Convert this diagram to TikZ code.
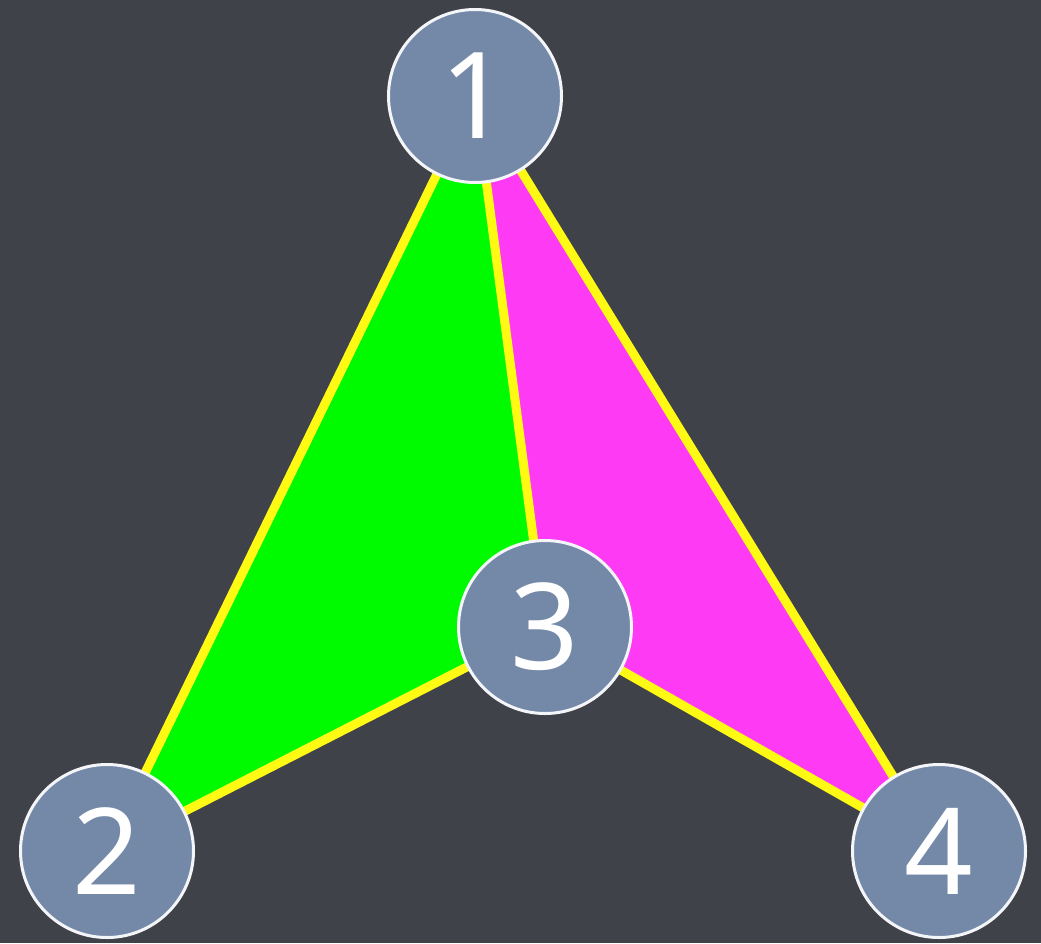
\documentclass[tikz,border=0pt]{standalone}
\usepackage{fontspec}
\setmainfont{Noto Sans}
\definecolor{board}{RGB}{64,66,73}
\definecolor{nodefill}{RGB}{116,136,168}
\definecolor{edgey}{RGB}{255,250,20}
\definecolor{greenf}{RGB}{0,250,0}
\definecolor{magf}{RGB}{255,58,245}
\tikzset{
  vert/.style={circle, draw=white!92!nodefill, line width=3pt, fill=nodefill,
    minimum size=173pt, inner sep=0pt, text=white,
    font=\fontsize{120}{120}\selectfont},
  edge/.style={draw=edgey, line width=9pt, line join=round, line cap=round},
}
\begin{document}
\begin{tikzpicture}[x=1pt,y=-1pt]
\useasboundingbox (0,0) rectangle (1041,943);
\fill[board] (0,0) rectangle (1041,943);
\coordinate (c1) at (475,96);
\coordinate (c2) at (107,851);
\coordinate (c3) at (545,627);
\coordinate (c4) at (939,851);
\fill[greenf] (c1) -- (c2) -- (c3) -- cycle;
\fill[magf] (c1) -- (c3) -- (c4) -- cycle;
\draw[edge] (c1) -- (c2);
\draw[edge] (c2) -- (c3);
\draw[edge] (c1) -- (c3);
\draw[edge] (c3) -- (c4);
\draw[edge] (c1) -- (c4);
\node[vert] (n1) at (c1) {1};
\node[vert] (n2) at (c2) {2};
\node[vert] (n3) at (c3) {3};
\node[vert] (n4) at (c4) {4};
\end{tikzpicture}
\end{document}
